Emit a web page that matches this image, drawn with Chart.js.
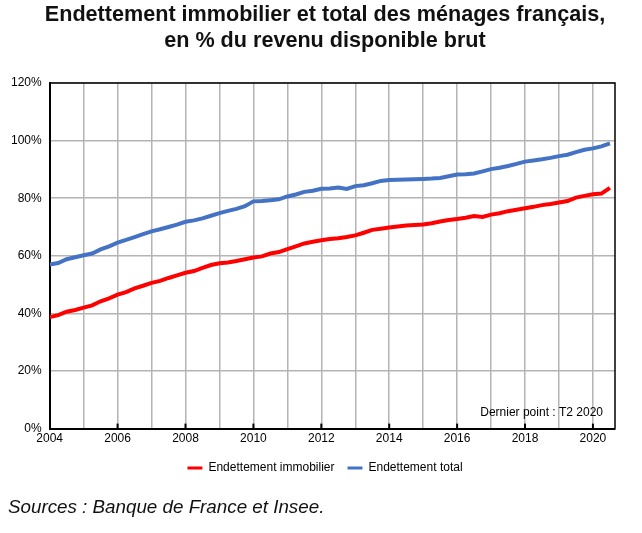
<!DOCTYPE html>
<html>
<head>
<meta charset="utf-8">
<script src="https://cdn.jsdelivr.net/npm/chart.js@4"></script>
<style>
  body { margin: 0; background: #fff; }
  #wrap { position: relative; width: 642px; height: 533px; }
  #title {
    position: absolute; left: 10px; width: 630px; top: 1px; text-align: center;
    font: bold 21.6px/26px "Liberation Sans", Arial, sans-serif; color: #111;
  }
  #sources {
    position: absolute; left: 8px; top: 496px;
    font: italic 18.8px "Liberation Sans", Arial, sans-serif; color: #111;
  }
</style>
</head>
<body>
<div id="wrap">
  <canvas id="chart" width="642" height="533"></canvas>
  <div id="title">Endettement immobilier et total des ménages français,<br>en % du revenu disponible brut</div>
  <div id="sources">Sources : Banque de France et Insee.</div>
</div>
<script>
// quarterly points, T1 2004 .. T2 2020 (x = year + quarter offset)
const startYear = 2004;
const immobilier = [
  38.7, 39.4, 40.6, 41.2,
  42.0, 42.8, 44.2, 45.2,
  46.5, 47.4, 48.7, 49.6,
  50.6, 51.3, 52.3, 53.2,
  54.1, 54.7, 55.8, 56.8,
  57.4, 57.7, 58.2, 58.8,
  59.4, 59.8, 60.8, 61.3,
  62.3, 63.3, 64.3, 64.9,
  65.4, 65.8, 66.1, 66.5,
  67.1, 68.0, 69.0, 69.4,
  69.8, 70.2, 70.5, 70.7,
  70.9, 71.3, 71.9, 72.4,
  72.8, 73.2, 73.8, 73.5,
  74.3, 74.8, 75.5, 76.0,
  76.5, 77.0, 77.6, 78.0,
  78.5, 79.0, 80.2, 80.8,
  81.4, 81.6, 83.6
];
const total = [
  57.0, 57.5, 58.8, 59.5,
  60.2, 60.8, 62.2, 63.3,
  64.6, 65.5, 66.5, 67.5,
  68.5, 69.2, 70.0, 70.8,
  71.8, 72.3, 73.0, 73.9,
  74.8, 75.6, 76.3, 77.2,
  78.9, 79.0, 79.3, 79.6,
  80.6, 81.3, 82.2, 82.6,
  83.3, 83.4, 83.7, 83.2,
  84.2, 84.5, 85.2, 86.0,
  86.3, 86.4, 86.5, 86.6,
  86.7, 86.8, 87.0, 87.6,
  88.2, 88.3, 88.6, 89.3,
  90.1, 90.6, 91.2, 91.9,
  92.7, 93.1, 93.5, 94.0,
  94.6, 95.1, 96.0, 96.8,
  97.3, 98.0, 99.0
];
const yTicks = [0, 20, 40, 60, 80, 100, 120];

const toPoints = arr => arr.map((v, i) => ({ x: startYear + i * 0.25, y: v }));
const font = '"Liberation Sans", Arial, sans-serif';

// plot frame, small even-year ticks and the "last point" note
const framePlugin = {
  id: 'frame',
  beforeDraw(chart) {
    // nudge the legend to the right, as in the original
    if (!chart.$legendShifted) {
      chart.legend.left += 16;
      chart.legend.right += 16;
      chart.$legendShifted = true;
    }
  },
  afterDraw(chart) {
    const { ctx, chartArea: a, scales } = chart;
    ctx.save();
    ctx.strokeStyle = '#000';
    ctx.lineWidth = 1.5;
    ctx.beginPath();
    ctx.moveTo(a.left, a.top);
    ctx.lineTo(a.right, a.top);
    ctx.lineTo(a.right, a.bottom);
    ctx.stroke();
    ctx.lineWidth = 2;
    for (let yr = 2006; yr <= 2020; yr += 2) {
      const px = scales.x.getPixelForValue(yr);
      ctx.beginPath();
      ctx.moveTo(px, a.bottom);
      ctx.lineTo(px, a.bottom - 5);
      ctx.stroke();
    }
    ctx.fillStyle = '#000';
    ctx.font = '12px ' + font;
    ctx.textAlign = 'right';
    ctx.textBaseline = 'alphabetic';
    ctx.fillText('Dernier point : T2 2020', a.right - 12, a.bottom - 13);
    ctx.restore();
  }
};

new Chart(document.getElementById('chart'), {
  type: 'line',
  data: {
    datasets: [
      {
        label: 'Endettement immobilier',
        data: toPoints(immobilier),
        borderColor: '#ff0000',
        backgroundColor: '#ff0000',
        borderWidth: 4,
        pointRadius: 0,
        tension: 0
      },
      {
        label: 'Endettement total',
        data: toPoints(total),
        borderColor: '#4472c4',
        backgroundColor: '#4472c4',
        borderWidth: 4,
        pointRadius: 0,
        tension: 0
      }
    ]
  },
  options: {
    responsive: false,
    animation: false,
    layout: { padding: { left: 3, right: 27, top: 83, bottom: 49 } },
    plugins: {
      legend: {
        position: 'bottom',
        labels: {
          color: '#000',
          font: { family: font, size: 12 },
          boxWidth: 15,
          boxHeight: 3,
          padding: 13,
          generateLabels: chart => Chart.defaults.plugins.legend.labels.generateLabels(chart)
            .map(item => Object.assign(item, { lineWidth: 0 }))
        }
      },
      tooltip: { enabled: false }
    },
    scales: {
      x: {
        type: 'linear',
        min: 2004,
        max: 2020.65,
        afterBuildTicks: scale => {
          scale.ticks = [];
          for (let yr = 2004; yr <= 2020; yr++) scale.ticks.push({ value: yr });
        },
        ticks: {
          color: '#000',
          font: { family: font, size: 12 },
          padding: 3,
          maxRotation: 0,
          autoSkip: false,
          callback: v => (v % 2 === 0 ? String(v) : '')
        },
        grid: { color: '#b4b4b4', lineWidth: 1.5, drawTicks: false },
        border: { color: '#000', width: 2 }
      },
      y: {
        min: 0,
        max: 120,
        afterBuildTicks: scale => { scale.ticks = yTicks.map(v => ({ value: v })); },
        ticks: {
          color: '#000',
          font: { family: font, size: 12 },
          padding: 8,
          callback: v => v + '%'
        },
        grid: { color: '#b4b4b4', lineWidth: 1.5, drawTicks: false },
        border: { color: '#000', width: 2 }
      }
    }
  },
  plugins: [framePlugin]
});
</script>
</body>
</html>
